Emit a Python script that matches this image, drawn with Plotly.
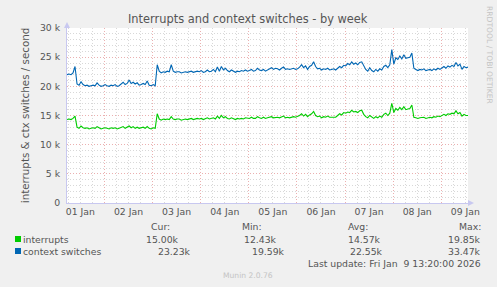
import pandas as pd
import plotly.graph_objects as go

# ---- data (values in thousands, hourly samples from 2026-01-01 05:20) ----
start_time = "2026-01-01 05:20"
end_time = "2026-01-09 13:20"

interrupts_k = [
    14.3, 14.4, 14.3, 14.5, 14.9, 13.0, 12.8, 13.2, 12.9,
    12.8, 12.9, 12.7, 12.8, 12.9, 12.8, 13.1,
    12.9, 12.7, 12.8, 12.9, 12.8, 12.7, 12.9, 12.8, 12.9, 12.7, 12.8, 13.0,
    13.1, 12.8, 13.0, 13.2,
    12.9, 13.1, 12.8, 13.0, 12.8, 12.9, 13.0, 12.8, 13.1,
    12.8, 12.7, 12.9, 12.8,
    15.3, 14.4, 14.2, 14.4, 14.3, 14.4, 14.3, 14.8,
    14.4, 14.3, 14.4, 14.4, 14.2, 14.3, 14.4, 14.3,
    14.4, 14.5, 14.3, 14.4, 14.5, 14.4, 14.5, 14.3, 14.4, 14.6, 14.4, 14.5,
    14.6, 14.4, 14.9, 14.5, 15.0, 14.6, 14.8, 14.5,
    14.4, 14.6, 14.5, 14.3, 14.5, 14.4,
    14.5, 14.4, 14.6, 14.5, 14.5, 14.7, 14.5, 14.5, 14.8, 14.6, 14.5, 14.7, 14.5, 14.6,
    14.7, 14.8, 14.6, 14.7, 14.7, 14.6, 14.8, 14.9, 14.6, 14.7, 14.6, 14.7, 14.8, 14.7, 14.8,
    15.0, 15.3, 14.9, 15.2, 14.8, 15.1, 15.3, 15.7,
    15.0, 14.8, 14.9, 14.6, 14.8, 14.7, 14.9, 14.7, 14.7, 14.8, 14.7,
    15.0, 15.3, 15.1, 15.5, 15.4, 15.6, 15.5, 15.9, 15.6,
    15.7, 15.5, 15.8, 15.9, 15.2,
    14.8, 14.6, 15.0, 14.7, 14.5, 14.8, 14.6, 14.9, 14.7,
    15.2, 15.4, 15.0, 15.4, 17.1, 15.5,
    16.2, 15.9, 16.4, 16.0, 16.5, 16.0, 16.1, 16.2, 16.8, 14.7,
    14.6, 14.5, 14.6, 14.6, 14.7, 14.5, 14.6, 14.7, 14.6, 14.8, 14.7, 14.9, 14.8,
    15.0, 15.2, 15.0, 15.3, 15.2, 15.4, 15.3, 15.8, 15.3,
    15.5, 14.9, 15.2, 15.0, 15.0,
]

context_switches_k = [
    22.0, 22.1, 22.0, 22.3, 23.4, 20.4, 20.2, 20.8, 20.3,
    20.1, 20.2, 20.0, 20.1, 20.2, 20.1, 20.6,
    20.2, 20.0, 20.1, 20.3, 20.1, 20.0, 20.2, 20.1, 20.3, 20.0, 20.1, 20.4,
    20.7, 20.3, 20.5, 21.1,
    20.5, 20.7, 20.4, 20.6, 20.2, 20.3, 20.5, 20.3, 20.9,
    20.2, 20.1, 20.3, 20.1,
    23.7, 22.6, 22.3, 22.5, 22.4, 22.6, 22.5, 23.7,
    22.6, 22.4, 22.5, 22.5, 22.3, 22.4, 22.5, 22.4,
    22.5, 22.6, 22.4, 22.5, 22.6, 22.5, 22.7, 22.4, 22.5, 22.8, 22.5, 22.6,
    22.9, 22.5, 23.3, 22.6, 23.4, 22.8, 23.1, 22.7,
    22.5, 22.8, 22.6, 22.4, 22.6, 22.5,
    22.7, 22.6, 22.8, 22.6, 22.7, 22.9, 22.6, 22.7, 23.1, 22.8, 22.7, 22.9, 22.6, 22.8,
    23.0, 23.2, 22.9, 23.1, 23.0, 22.8, 23.1, 23.3, 22.9, 23.0, 22.9, 23.0, 23.1, 22.9, 23.0,
    23.3, 23.7, 23.2, 23.5, 22.9, 23.4, 23.6, 24.2,
    23.4, 23.0, 23.1, 22.8, 23.0, 22.9, 23.1, 22.8, 22.9, 23.0, 22.8,
    23.1, 23.4, 23.2, 23.6, 23.5, 23.9, 23.7, 24.2, 23.8,
    24.0, 23.7, 24.1, 24.2, 23.4,
    22.9, 22.6, 23.2, 22.7, 22.5, 22.9, 22.6, 23.0, 22.8,
    23.4, 23.6, 23.2, 23.7, 26.3, 23.8,
    24.9, 24.6, 25.2, 24.7, 25.4, 24.8, 24.9, 25.0, 25.7, 23.1,
    22.9, 22.7, 22.9, 22.8, 23.0, 22.7, 22.8, 22.9, 22.7, 23.0, 22.8, 23.1, 22.9,
    23.2, 23.4, 23.1, 23.5, 23.3, 23.6, 23.4, 24.1, 23.5,
    23.8, 22.9, 23.4, 23.2, 23.3,
]

y_tick_values = [0, 5000, 10000, 15000, 20000, 25000, 30000]
y_tick_labels = ["0", "5 k", "10 k", "15 k", "20 k", "25 k", "30 k"]

legend_rows = [
    ("interrupts", "#00CC00", "15.00k", "12.43k", "14.57k", "19.85k"),
    ("context switches", "#0066B3", "23.23k", "19.59k", "22.55k", "33.47k"),
]

times = pd.date_range(start_time, periods=len(interrupts_k), freq="h")

W, H = 497, 287
L, R, T, B = 67, 468, 28, 203
PW, PH = R - L, B - T

def px(x):
    return (x - L) / PW

def py(y):
    return (B - y) / PH

FONT = "DejaVu Sans"
TXT = "#555555"
MAJOR = "#EBB0B0"
MINOR = "#D8D8D8"
GDASH = "1px,2px"

fig = go.Figure()
fig.add_trace(go.Scatter(x=times, y=[v * 1000 for v in interrupts_k], mode="lines",
                         line=dict(color="#00CC00", width=1.1), showlegend=False))
fig.add_trace(go.Scatter(x=times, y=[v * 1000 for v in context_switches_k], mode="lines",
                         line=dict(color="#0066B3", width=1.1), showlegend=False))

fig.update_layout(
    width=W, height=H,
    margin=dict(l=L, r=W - R, t=T, b=H - B),
    paper_bgcolor="#F0F0F0", plot_bgcolor="#FFFFFF",
    font=dict(family=FONT, size=9.3, color=TXT),
    showlegend=False,
)

fig.update_xaxes(
    type="date", range=[start_time, end_time],
    tick0="2026-01-01", dtick=86400000, ticklabelmode="period", tickformat="%d %b",
    showgrid=True, gridcolor=MAJOR, griddash=GDASH, gridwidth=1,
    minor=dict(tick0="2026-01-01", dtick=6 * 3600 * 1000, showgrid=True,
               gridcolor=MINOR, griddash=GDASH, gridwidth=1),
    showline=True, linecolor="#C8C8F0", linewidth=1,
    ticks="", tickfont=dict(size=9.3, color=TXT), zeroline=False,
)
fig.update_yaxes(
    range=[0, 30000], tickvals=y_tick_values, ticktext=y_tick_labels,
    showgrid=True, gridcolor=MAJOR, griddash=GDASH, gridwidth=1,
    minor=dict(tick0=0, dtick=1000, showgrid=True, gridcolor=MINOR, griddash=GDASH, gridwidth=1),
    showline=True, linecolor="#C8C8F0", linewidth=1,
    ticks="", ticklabelstandoff=4, tickfont=dict(size=9.3, color=TXT), zeroline=False,
    title=dict(text="interrupts & ctx switches / second", font=dict(size=10.3, color=TXT), standoff=8),
)

# arrows on axis ends
fig.add_shape(type="path", xref="paper", yref="paper", xsizemode="pixel", ysizemode="pixel",
              xanchor=0, yanchor=1, path="M -3,0 L 3,0 L 0,6 Z",
              fillcolor="#C8C8F0", line=dict(width=0))
fig.add_shape(type="path", xref="paper", yref="paper", xsizemode="pixel", ysizemode="pixel",
              xanchor=1, yanchor=0, path="M 0,-3 L 0,3 L 6,0 Z",
              fillcolor="#C8C8F0", line=dict(width=0))

ann = []
def text(x, y, s, anchor="left", size=9.3, color=TXT, angle=0):
    ann.append(dict(x=px(x), y=py(y), xref="paper", yref="paper", text=s, showarrow=False,
                    xanchor=anchor, yanchor="middle", textangle=angle,
                    font=dict(family=FONT, size=size, color=color)))

text(248, 19, "Interrupts and context switches - by week", anchor="center", size=11.4)
text(489, 55, "RRDTOOL / TOBI OETIKER", anchor="center", size=7.6, color="#C4C4C4", angle=90)

text(172, 226, "Cur:", anchor="right")
text(264, 226, "Min:", anchor="right")
text(370, 226, "Avg:", anchor="right")
text(483, 226, "Max:", anchor="right")

row_y = [239, 251]
cur_r = [181, 193]
min_r = [279, 287]
avg_r = [383, 385]
for i, (name, col, cur, mn, av, mx) in enumerate(legend_rows):
    yy = row_y[i]
    fig.add_shape(type="rect", xref="paper", yref="paper",
                  x0=px(15), x1=px(21), y0=py(yy + 3), y1=py(yy - 3),
                  fillcolor=col, line=dict(width=0))
    text(21, yy, name)
    text(cur_r[i], yy, cur, anchor="right")
    text(min_r[i], yy, mn, anchor="right")
    text(avg_r[i], yy, av, anchor="right")
    text(483, yy, mx, anchor="right")

text(483, 263, "Last update: Fri Jan&nbsp; 9 13:20:00 2026", anchor="right")
text(248, 275, "Munin 2.0.76", anchor="center", size=7.6, color="#C4C4C4")

fig.update_layout(annotations=ann)
fig.write_html("out.html")
